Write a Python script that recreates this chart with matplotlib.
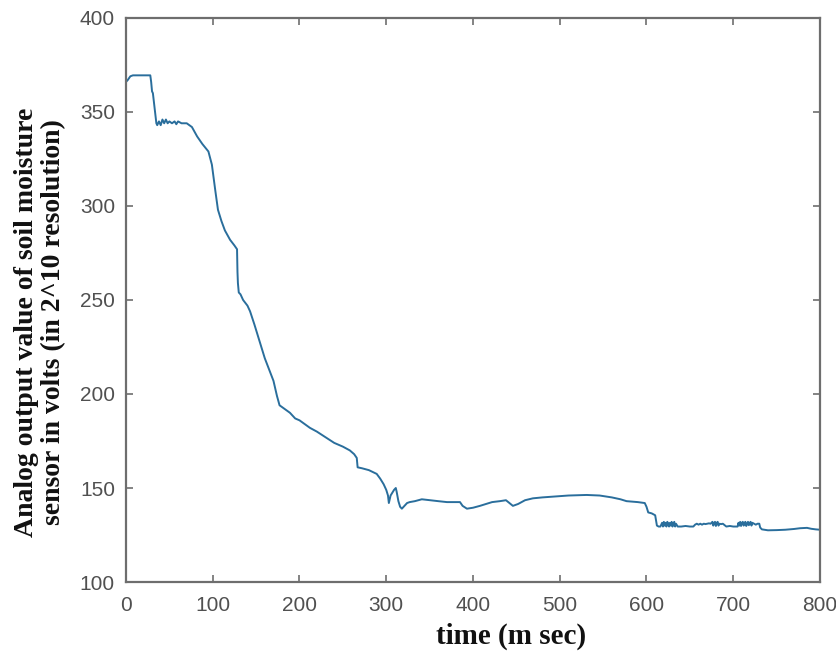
import numpy as np
import matplotlib
matplotlib.use("Agg")
import matplotlib.pyplot as plt

# sensor trace (time in ms, analog value)
time_main = [0, 2, 5, 8, 15, 28, 29, 30, 31, 33, 35, 36, 38, 40, 42, 44, 46, 48, 50, 53,
             56, 58, 60, 64, 70, 76, 82, 88, 95, 99, 103, 106, 110, 114, 120, 125, 128,
             128.5, 129, 130, 132, 135, 140, 143, 148, 154, 160, 165, 170, 174, 177, 183,
             189, 195, 200, 206, 212, 220, 230, 240, 250, 258, 263, 266, 267, 272, 280,
             289, 293, 297, 300, 302, 303, 305, 307, 309, 311, 312, 314, 316, 318, 321,
             324, 327, 333, 341, 350, 360, 370, 385, 388, 393, 400, 408, 415, 422, 431,
             438, 442, 446, 452, 460, 469, 480, 495, 510, 531, 546, 560, 570, 577, 590,
             598, 600, 602, 606, 610, 612, 614]
value_main = [366, 367, 369, 369.5, 369.5, 369.5, 366, 361, 360, 352, 344, 343, 345, 343,
              346, 344, 346, 344, 345, 344, 345, 343.5, 345, 344, 344, 342, 337, 333, 329,
              322, 308, 298, 292, 287, 282, 279, 277, 265, 259, 254, 253, 250, 247, 244,
              237, 228, 219, 213, 207, 199, 194, 192, 190, 187, 186, 184, 182, 180, 177,
              174, 172, 170, 168, 166, 161, 160.5, 159.5, 157.5, 155, 152, 149, 146, 142,
              146, 147.5, 149, 150, 148, 143, 140, 139, 140.5, 142, 142.5, 143, 144, 143.5,
              143, 142.5, 142.5, 140.5, 139, 139.5, 140.5, 141.5, 142.5, 143, 143.5, 142,
              140.5, 141.5, 143.5, 144.5, 145, 145.5, 146, 146.3, 146, 145, 144, 143,
              142.5, 142, 140, 137, 136.5, 135.5, 130, 129.5]

# jittery stretch between 615 and 730 ms
time_band = [616, 618, 619, 620, 621, 622, 623, 624, 625, 626, 627, 628, 629, 630, 631,
             632, 633, 634, 636, 640, 645, 650, 654, 656, 658, 660, 662, 664, 666, 668,
             670, 672, 674, 676, 677, 678, 679, 680, 681, 682, 683, 684, 686, 688, 692,
             696, 700, 705, 706, 707, 708, 709, 710, 711, 712, 713, 714, 715, 716, 717,
             718, 719, 720, 721, 722, 724, 726, 728, 730]
value_band = [129.5, 131.5, 129.5, 132, 130, 131.5, 129.5, 132, 131, 129.5, 131.5, 130,
              132, 129.5, 131, 132, 129.5, 131, 129.5, 129.5, 129.8, 129.5, 129.5, 130.5,
              131, 130.5, 131, 130.5, 131, 130.8, 131, 131.2, 131, 132, 130, 131.5,
              132, 129.8, 131.5, 132, 130, 131, 130.8, 131, 129.5, 129.8, 129.5, 129.5,
              131.5, 130, 132, 129.8, 131.5, 132, 130, 131.5, 132, 129.8, 131, 132,
              130.2, 131.5, 132, 130, 131.5, 131, 130.5, 131, 131]

time_tail = [731, 733, 740, 750, 760, 770, 777, 785, 790, 795, 800]
value_tail = [129, 128, 127.5, 127.6, 127.8, 128.2, 128.6, 128.8, 128.3, 128, 127.8]

x_ticks = [0, 100, 200, 300, 400, 500, 600, 700, 800]
y_ticks = [100, 150, 200, 250, 300, 350, 400]

t = np.array(time_main + time_band + time_tail)
v = np.array(value_main + value_band + value_tail)

fig = plt.figure(figsize=(8.37, 6.55), dpi=100)
ax = fig.add_axes([126 / 837, 1 - 582 / 655, 694 / 837, 564 / 655])

ax.plot(t, v, color="#2a6e9c", lw=1.4)

ax.set_xlim(0, 800)
ax.set_ylim(100, 400)
ax.set_xticks(x_ticks)
ax.set_yticks(y_ticks)

tick_grey = "#505050"
for s in ax.spines.values():
    s.set_color("#6e6e6e")
    s.set_linewidth(1.6)
ax.tick_params(direction="in", top=True, right=True, length=5, width=1.2,
               color="#6e6e6e", labelcolor=tick_grey, labelsize=15)
ax.tick_params(axis="x", pad=10)
ax.tick_params(axis="y", pad=8)
for lab in ax.get_xticklabels() + ax.get_yticklabels():
    lab.set_family("Liberation Sans")

ax.set_xlabel("time (m sec)", family="Liberation Serif", fontweight="bold",
              fontsize=21, color="#111111", va="center")
ax.xaxis.set_label_coords((511 - 126) / 694, (582 - 636) / 564)
ax.set_ylabel("Analog output value of soil moisture\nsensor in volts (in 2^10 resolution)",
              family="Liberation Serif", fontweight="bold", fontsize=20,
              color="#111111", linespacing=1.15, va="center")
ax.yaxis.set_label_coords((40 - 126) / 694, 0.46)

fig.savefig("out.png", dpi=100)
